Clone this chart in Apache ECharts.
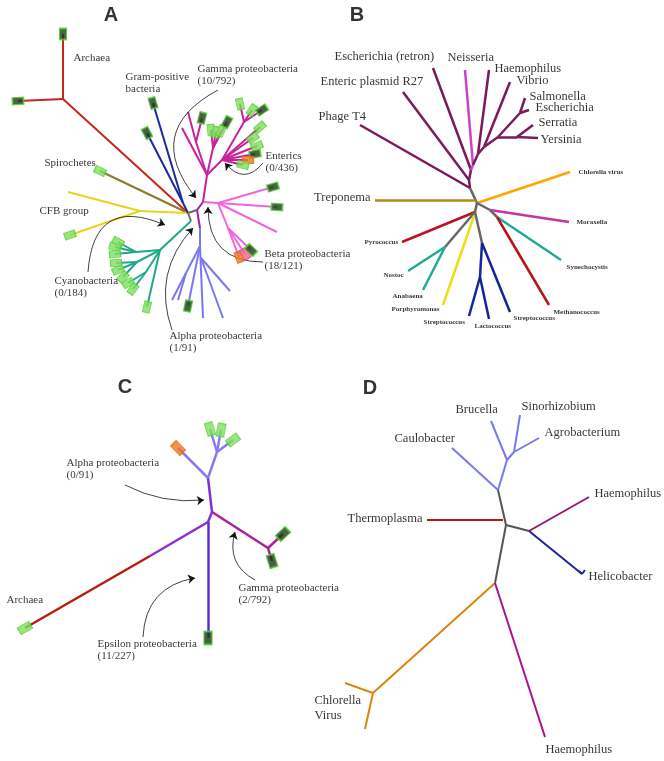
<!DOCTYPE html>
<html>
<head>
<meta charset="utf-8">
<script src="https://cdn.jsdelivr.net/npm/echarts@6/dist/echarts.min.js"></script>
<style>
html, body { margin: 0; padding: 0; background: #fff; }
#chart { width: 664px; height: 761px; }
</style>
</head>
<body>
<div id="chart"></div>
<script>
// branch lists: [x1, y1, x2, y2, colour key, leaf box]
var branchesA = [
  [188, 213, 63, 99, 'arch'], [63, 99, 63, 34, 'arch', 'dark'], [63, 99, 18, 101, 'arch', 'dark'],
  [188, 213, 100, 171, 'spiro', 'light'],
  [188, 213, 140, 211, 'cfb'], [140, 211, 68, 192, 'cfb'], [140, 211, 70, 235, 'cfb', 'light'],
  [188, 213, 183, 203, 'gram'], [183, 203, 153, 103, 'gram', 'dark'], [183, 203, 147, 133, 'gram', 'dark'],
  [188, 213, 197, 210, 'grey'], [197, 210, 203, 202, 'junc'], [197, 210, 200, 228, 'junc'],
  [188, 213, 191, 221, 'grey'], [191, 221, 160, 250, 'cyano'],
  [160, 250, 147, 307, 'cyano', 'light'],
  [160, 250, 136, 252, 'cyano'], [136, 252, 118, 242, 'cyano', 'light'], [136, 252, 115, 247, 'cyano', 'light'], [136, 252, 115, 254, 'cyano', 'light'],
  [160, 250, 137, 262, 'cyano'], [137, 262, 116, 263, 'cyano', 'light'], [137, 262, 118, 270, 'cyano', 'light'], [137, 262, 123, 277, 'cyano', 'light'],
  [160, 250, 146, 272, 'cyano'], [146, 272, 128, 283, 'cyano', 'light'], [146, 272, 133, 289, 'cyano', 'light'],
  [200, 228, 200, 246, 'alphaA'], [200, 246, 172, 300, 'alphaA'], [186, 273, 178, 300, 'alphaA'],
  [200, 246, 188, 306, 'alphaA', 'dark'], [200, 246, 203, 318, 'alphaA'],
  [201, 258, 223, 318, 'alphaA'], [201, 258, 230, 291, 'alphaA'],
  [203, 202, 218, 203, 'beta'], [218, 203, 277, 207, 'beta', 'dark'], [218, 203, 273, 187, 'beta', 'dark'],
  [218, 203, 277, 232, 'beta'], [218, 203, 228, 228, 'beta'],
  [228, 228, 239, 257, 'beta', 'orange'], [228, 228, 245, 254, 'beta', 'pink'], [228, 228, 251, 250, 'beta', 'dark'],
  [203, 202, 207, 175, 'gamma'],
  [207, 175, 182, 128, 'gamma'], [207, 175, 196, 142, 'gamma'], [196, 142, 188, 112, 'gamma'], [196, 142, 202, 118, 'gamma', 'dark'],
  [207, 175, 213, 148, 'gamma'], [213, 148, 211, 130, 'gamma', 'light'], [213, 148, 216, 132, 'gamma', 'light'],
  [213, 148, 221, 131, 'gamma', 'light'], [213, 148, 227, 122, 'gamma', 'dark'],
  [207, 175, 222, 160, 'gamma'], [222, 160, 244, 122, 'gamma'],
  [244, 122, 240, 104, 'gamma', 'light'], [244, 122, 252, 110, 'gamma', 'light'], [244, 122, 262, 110, 'gamma', 'dark'],
  [222, 160, 260, 127, 'gamma', 'light'], [222, 160, 253, 138, 'gamma', 'light'], [222, 160, 257, 146, 'gamma', 'light'],
  [222, 160, 255, 154, 'gamma', 'dark'], [222, 160, 248, 160, 'gamma', 'orange'], [222, 160, 243, 165, 'gamma', 'light']
];
var branchesB = [
  [477, 203, 470, 188, 'bgrey'], [470, 188, 360, 125, 'bdark'], [470, 188, 469, 180, 'bdark'],
  [469, 180, 403, 92, 'bdark'], [469, 180, 471, 170, 'bdark'], [471, 170, 433, 68, 'bdark'],
  [471, 170, 473, 165, 'neis'], [473, 165, 465, 70, 'neis'],
  [473, 165, 478, 154, 'bdark'], [478, 154, 489, 70, 'bdark'], [478, 154, 484, 147, 'bdark'],
  [484, 147, 510, 82, 'bdark'], [484, 147, 498, 137, 'bdark'], [498, 137, 520, 113, 'bdark'],
  [520, 113, 525, 98, 'bdark'], [520, 113, 529, 110, 'bdark'],
  [498, 137, 517, 137, 'bdark'], [517, 137, 533, 125, 'bdark'], [517, 137, 538, 138, 'bdark'],
  [375, 200, 476, 200, 'trep'], [477, 203, 570, 172, 'chlor'],
  [477, 203, 490, 210, 'bgrey'], [490, 210, 569, 222, 'morax'],
  [490, 210, 497, 217, 'bgrey'], [497, 217, 561, 260, 'syn'], [497, 217, 549, 305, 'methano'],
  [477, 203, 475, 212, 'bgrey'], [475, 212, 402, 242, 'pyro'],
  [475, 212, 445, 247, 'bgrey'], [445, 247, 408, 271, 'syn'], [445, 247, 423, 290, 'syn'],
  [474, 216, 443, 305, 'porph'],
  [475, 212, 482, 243, 'bgrey'], [482, 243, 510, 312, 'strep'], [482, 243, 480, 277, 'strep'],
  [480, 277, 469, 316, 'strep'], [480, 277, 489, 319, 'strep']
];
var branchesC = [
  [212, 512, 208, 478, 'cStem'], [208, 478, 178, 448, 'cAlpha', 'orange'], [208, 478, 217, 452, 'cAlpha'],
  [217, 452, 210, 429, 'cAlpha', 'light'], [217, 452, 221, 430, 'cAlpha', 'light'], [217, 452, 233, 440, 'cAlpha', 'light'],
  [212, 512, 268, 548, 'cGamma'], [268, 548, 283, 534, 'cGamma', 'dark'], [268, 548, 272, 561, 'cGamma', 'dark'],
  [212, 512, 208, 522, 'cStem'], [208, 522, 150, 556, 'cStem'], [150, 556, 25, 628, 'cArch', 'light'],
  [208, 522, 208, 638, 'cEps', 'dark']
];
var branchesD = [
  [498, 490, 452, 448, 'dAlpha'], [498, 490, 507, 460, 'dAlpha'], [507, 460, 491, 421, 'dAlpha'],
  [507, 460, 514, 452, 'dAlpha'], [514, 452, 520, 415, 'dAlpha'], [514, 452, 539, 438, 'dAlpha'],
  [498, 490, 506, 525, 'dGrey'], [427, 520, 503, 520, 'dRed'], [506, 525, 529, 531, 'dGrey'],
  [529, 531, 589, 497, 'dHaem'], [529, 531, 582, 574, 'dHelico'],
  [582, 574, 579, 571, 'dHelico'], [582, 574, 585, 570, 'dHelico'],
  [506, 525, 495, 583, 'dGrey'], [495, 583, 373, 693, 'dOrange'],
  [373, 693, 345, 683, 'dOrange'], [373, 693, 365, 729, 'dOrange'],
  [495, 583, 545, 737, 'dMag']
];

// pointer arrows: [x1, y1, x2, y2, curveness]
var arrows = [
  [218, 90, 196, 198, -0.6], [263, 163, 225, 163, 0.6], [88, 272, 165, 225, 0.7],
  [172, 330, 193, 228, 0.3], [263, 262, 208, 207, 0.5],
  [125, 485, 204, 500, -0.15], [255, 580, 235, 532, 0.4], [143, 637, 195, 578, 0.4]
];

// text: [label, x, y, side]
var labelsA = [
  ['Archaea', 72, 58, 'l'], ['Gram-positive\nbacteria', 124, 83, 'l'],
  ['Gamma proteobacteria\n(10/792)', 196, 75, 'l'], ['Enterics\n(0/436)', 264, 162, 'l'],
  ['Spirochetes', 43, 163, 'l'], ['CFB group', 38, 211, 'l'],
  ['Beta proteobacteria\n(18/121)', 263, 260, 'l'], ['Cyanobacteria\n(0/184)', 53, 287, 'l'],
  ['Alpha proteobacteria\n(1/91)', 168, 342, 'l']
];
var labelsC = [
  ['Alpha proteobacteria\n(0/91)', 65, 469, 'l'], ['Gamma proteobacteria\n(2/792)', 237, 594, 'l'],
  ['Archaea', 5, 600, 'l'], ['Epsilon proteobacteria\n(11/227)', 96, 650, 'l']
];
var labelsB = [
  ['Escherichia (retron)', 333, 57, 'l'], ['Neisseria', 446, 58, 'l'], ['Haemophilus', 493, 69, 'l'],
  ['Vibrio', 515, 81, 'l'], ['Salmonella', 528, 97, 'l'], ['Escherichia', 534, 108, 'l'],
  ['Serratia', 537, 123, 'l'], ['Yersinia', 539, 140, 'l'], ['Enteric plasmid R27', 319, 82, 'l'],
  ['Phage T4', 317, 117, 'l'], ['Treponema', 372, 198, 'r']
];
var labelsBsmall = [
  ['Chlorella virus', 577, 172, 'l'], ['Moraxella', 575, 222, 'l'], ['Synechocystis', 565, 267, 'l'],
  ['Methanococcus', 552, 312, 'l'], ['Streptococcus', 512, 318, 'l'], ['Lactococcus', 473, 326, 'l'],
  ['Streptococcus', 422, 322, 'l'], ['Porphyromonas', 390, 309, 'l'], ['Anabaena', 391, 296, 'l'],
  ['Nostoc', 382, 275, 'l'], ['Pyrococcus', 363, 242, 'l']
];
var labelsD = [
  ['Brucella', 454, 410, 'l'], ['Sinorhizobium', 520, 407, 'l'], ['Caulobacter', 393, 439, 'l'],
  ['Agrobacterium', 543, 433, 'l'], ['Haemophilus', 593, 494, 'l'], ['Thermoplasma', 346, 519, 'l'],
  ['Helicobacter', 587, 577, 'l'], ['Chlorella\nVirus', 313, 708, 'l'], ['Haemophilus', 544, 750, 'l']
];
var panels = [['A', 111, 15], ['B', 357, 15], ['C', 125, 387], ['D', 370, 388]];

var COL = {
  arch: '#c8261a', spiro: '#8c7a2c', cfb: '#e8d41c', gram: '#1c2a9c', grey: '#6a6a6a', junc: '#9a22b8',
  cyano: '#20a88a', alphaA: '#7a78ee', beta: '#ee66dd', gamma: '#c8229a',
  bgrey: '#666666', bdark: '#7a1a5c', neis: '#cc40cc', trep: '#b08c14', chlor: '#ffa400', morax: '#c832a8',
  syn: '#22aa96', methano: '#b81414', pyro: '#b81424', porph: '#eedc14', strep: '#14249a',
  cStem: '#8a30d0', cAlpha: '#8a7aee', cGamma: '#aa2296', cArch: '#bb1c10', cEps: '#5a30cc',
  dAlpha: '#7a78ee', dGrey: '#555555', dRed: '#bb1414', dHaem: '#921a74', dHelico: '#22229a',
  dOrange: '#dc8410', dMag: '#a8128e'
};
var BOX = {
  dark: { color: '#1c3a1c', borderColor: '#55cc33', borderWidth: 1.5 },
  light: { color: '#7ee05e', borderColor: '#5ccc40', borderWidth: 1 },
  orange: { color: '#ee7722', borderColor: '#e06a10', borderWidth: 1 },
  pink: { color: '#ee6688', borderColor: '#dd4477', borderWidth: 1 }
};

function branchSeries(list, width) {
  return {
    type: 'lines', coordinateSystem: 'cartesian2d', silent: true,
    lineStyle: { width: width, opacity: 1, curveness: 0 },
    data: list.map(function (b) {
      return { coords: [[b[0], b[1]], [b[2], b[3]]], lineStyle: { color: COL[b[4]] } };
    })
  };
}
function boxSeries(list, size) {
  return {
    type: 'scatter', symbol: 'rect', silent: true, z: 5,
    data: list.filter(function (b) { return b[5]; }).map(function (b) {
      var ang = Math.atan2(-(b[3] - b[1]), b[2] - b[0]) * 180 / Math.PI;
      return { value: [b[2], b[3]], symbolRotate: ang, symbolSize: size, itemStyle: BOX[b[5]] };
    })
  };
}
function labelSeries(list, font) {
  return {
    type: 'scatter', symbolSize: 1, silent: true, z: 6,
    itemStyle: { color: 'rgba(0,0,0,0)' },
    label: Object.assign({ show: true, formatter: '{b}', distance: 1, color: '#000', fontFamily: 'Liberation Serif' }, font),
    data: list.map(function (l) {
      return { value: [l[1], l[2]], name: l[0], label: { position: l[3] === 'r' ? 'left' : 'right' } };
    })
  };
}

var chart = echarts.init(document.getElementById('chart'));
chart.setOption({
  animation: false,
  backgroundColor: '#fff',
  grid: { left: 0, right: 0, top: 0, bottom: 0 },
  xAxis: { type: 'value', min: 0, max: 664, show: false },
  yAxis: { type: 'value', min: 0, max: 761, inverse: true, show: false },
  series: [
    branchSeries(branchesA, 2),
    branchSeries(branchesB, 2.5),
    branchSeries(branchesC, 2.5),
    branchSeries(branchesD, 2),
    boxSeries(branchesA, [11, 7]),
    boxSeries(branchesC, [13, 8]),
    {
      type: 'lines', coordinateSystem: 'cartesian2d', silent: true,
      symbol: ['none', 'arrow'], symbolSize: 7,
      lineStyle: { color: '#111', width: 0.8, opacity: 1 },
      data: arrows.map(function (a) {
        return { coords: [[a[0], a[1]], [a[2], a[3]]], lineStyle: { curveness: a[4] } };
      })
    },
    labelSeries(labelsA, { fontSize: 11, lineHeight: 12 }),
    labelSeries(labelsC, { fontSize: 11, lineHeight: 12 }),
    labelSeries(labelsB, { fontSize: 12.5 }),
    labelSeries(labelsBsmall, { fontSize: 7, fontWeight: 'bold' }),
    labelSeries(labelsD, { fontSize: 12.5, lineHeight: 15 }),
    {
      type: 'scatter', symbolSize: 1, silent: true, itemStyle: { color: 'rgba(0,0,0,0)' },
      label: { show: true, position: 'inside', formatter: '{b}', color: '#000', fontSize: 20, fontWeight: 'bold', fontFamily: 'Liberation Sans' },
      data: panels.map(function (p) { return { value: [p[1], p[2]], name: p[0] }; })
    }
  ]
});
</script>
</body>
</html>
